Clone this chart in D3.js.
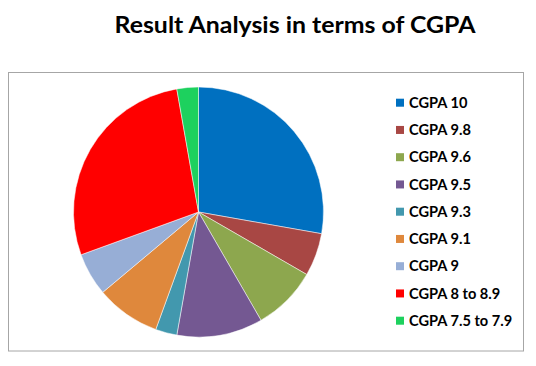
<!DOCTYPE html>
<html><head><meta charset="utf-8">
<script src="https://cdn.jsdelivr.net/npm/d3@7"></script>
<style>body{margin:0;background:#fff}svg{display:block}</style>
</head><body>
<script>
const categories = ["CGPA 10","CGPA 9.8","CGPA 9.6","CGPA 9.5","CGPA 9.3","CGPA 9.1","CGPA 9","CGPA 8 to 8.9","CGPA 7.5 to 7.9"];
const values = [10,2,3,4,1,3,2,10,1];
const colors = ["#0070C0","#A84744","#8DA74E","#745892","#4298AE","#DF883C","#97AED6","#FF0000","#1DD15E"];
const title = "Result Analysis in terms of CGPA";

const W=536,H=366;
const svg=d3.select("body").append("svg").attr("width",W).attr("height",H);
svg.append("rect").attr("x",8.5).attr("y",72.5).attr("width",515).attr("height",278.5)
  .attr("fill","#fff").attr("stroke","#A6A6A6").attr("stroke-width",1);

svg.append("text").attr("x",295).attr("y",33).attr("text-anchor","middle")
  .attr("font-family","Lato, 'Open Sans', sans-serif").attr("font-weight","bold")
  .attr("font-size",22).attr("fill","#000")
  .attr("textLength",361).attr("lengthAdjust","spacingAndGlyphs").text(title);

const data=categories.map((c,i)=>({c,v:values[i],col:colors[i]}));
const pie=d3.pie().value(d=>d.v).sort(null);
const arc=d3.arc().innerRadius(0).outerRadius(125);
const g=svg.append("g").attr("transform","translate(198.5,212)");
g.selectAll("path").data(pie(data)).join("path").attr("d",arc)
  .attr("fill",d=>d.data.col).attr("stroke","#fff").attr("stroke-width",0.5);

const y=d3.scalePoint().domain(categories).range([102.7,320.7]);
const lg=svg.append("g");
const items=lg.selectAll("g").data(data).join("g").attr("transform",d=>`translate(396,${y(d.c)})`);
items.append("rect").attr("x",0).attr("y",-4).attr("width",8).attr("height",8).attr("fill",d=>d.col);
items.append("text").attr("x",13).attr("y",0).attr("dy","0.35em")
  .attr("font-family","Lato, 'Open Sans', sans-serif").attr("font-weight","bold")
  .attr("font-size",14.6).attr("fill","#000").text(d=>d.c);
</script>
</body></html>
